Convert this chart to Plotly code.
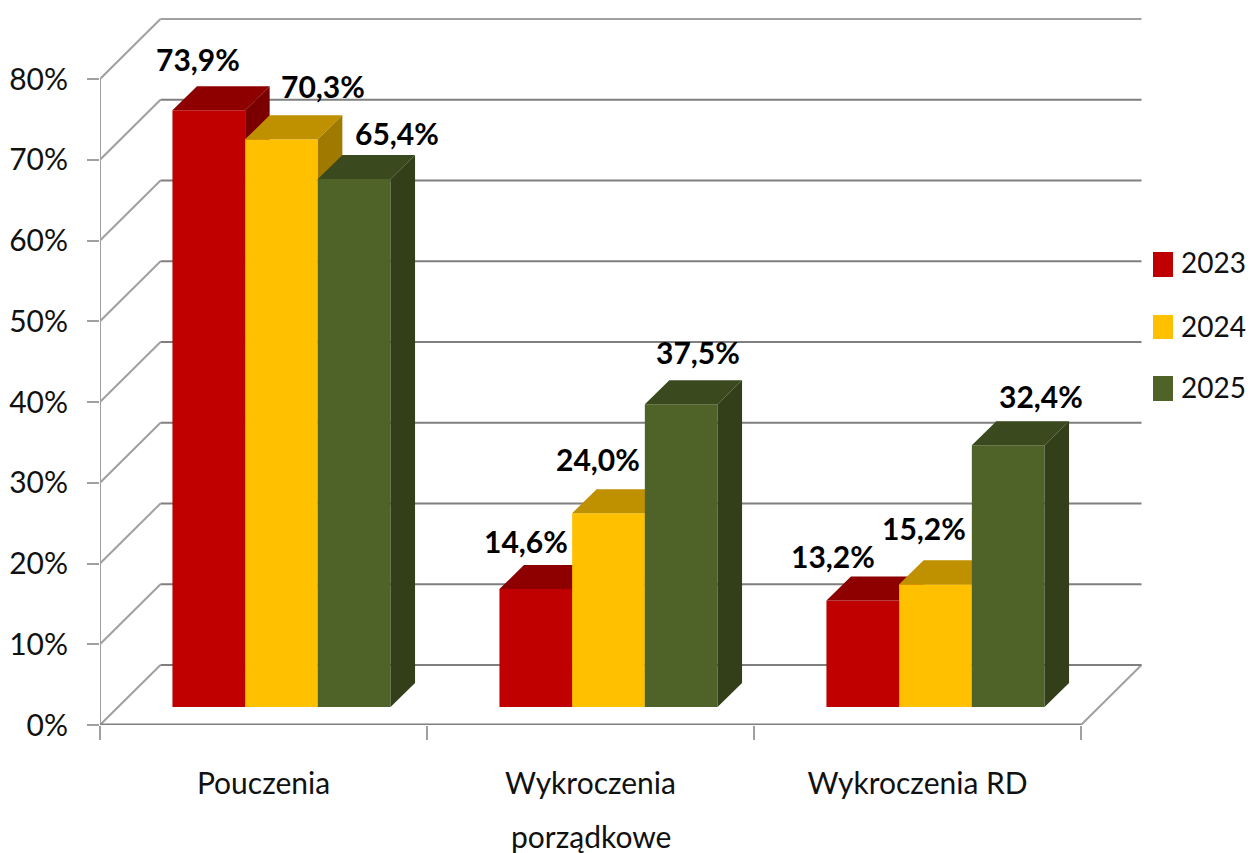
import plotly.graph_objects as go

categories = ["Pouczenia", "Wykroczenia", "Wykroczenia RD"]
second_line = ["", "porządkowe", ""]
years = ["2023", "2024", "2025"]
values_2023 = [73.9, 14.6, 13.2]
values_2024 = [70.3, 24.0, 15.2]
values_2025 = [65.4, 37.5, 32.4]
series = [values_2023, values_2024, values_2025]
y_ticks = [0, 10, 20, 30, 40, 50, 60, 70, 80]
y_labels = [f"{v}%" for v in y_ticks]

front = ["#C00000", "#FFC000", "#4F6228"]
top = ["#8E0000", "#BF9000", "#3B4A1E"]
side = ["#7A0000", "#A07A00", "#323F19"]
grid_back = "#7F7F7F"
grid_wall = "#A0A0A0"
axis_line = "#7F7F7F"
FONT = "Lato"
TXT = "#111111"
SZ = 30

W, H = 1250, 853
L, R, Y0, Y80 = 100, 1081, 725, 79     # front plane, page pixels
PR, PT = 1150, 8                       # right / top of the plot area, page pixels
ux = (R - L) / 3
uy = (Y0 - Y80) / 80
xmax = -0.5 + (PR - L) / ux
ymax = (Y0 - PT) / uy

wall_dx, wall_dy = 60.5 / ux, 60 / uy
floor_dx, floor_dy = 18 / ux, 18 / uy
bar_dx, bar_dy = 24.5 / ux, 24 / uy
bar_w = 72.7 / ux

label_dx = [[-11, 41, 43], [-10, -11, 17], [-30, -12, 33]]   # per category / series
label_dy = [[27, 29, 22], [24, 30, 28], [20, 32, 25]]

fig = go.Figure()

# walls and floor
wx, wy = [], []
for v in y_ticks:
    wx += [-0.5, -0.5 + wall_dx, None]
    wy += [v, v + wall_dy, None]
wx += [2.5, 2.5 + wall_dx, None]
wy += [0, wall_dy, None]
wx += [-0.5, -0.5]
wy += [0, 80]
fig.add_trace(go.Scatter(x=wx, y=wy, mode="lines", line=dict(color=grid_wall, width=2),
                         hoverinfo="skip", showlegend=False))
bx, by = [], []
for v in y_ticks[:-1]:
    bx += [-0.5 + wall_dx, 2.5 + wall_dx, None]
    by += [v + wall_dy, v + wall_dy, None]
fig.add_trace(go.Scatter(x=bx, y=by, mode="lines", line=dict(color=grid_back, width=2),
                         hoverinfo="skip", showlegend=False))
fig.add_trace(go.Scatter(x=[-0.5 + wall_dx, 2.5 + wall_dx], y=[80 + wall_dy] * 2, mode="lines",
                         line=dict(color=grid_wall, width=2), hoverinfo="skip", showlegend=False))
fig.add_trace(go.Scatter(x=[-0.5, 2.5], y=[0, 0], mode="lines", line=dict(color=axis_line, width=3),
                         hoverinfo="skip", showlegend=False))

# one overlaid layer per series so that later bars hide earlier ones
for s, vals in enumerate(series):
    ax = str(s + 2)
    xs = [i + floor_dx + (s - 1) * bar_w for i in range(len(vals))]
    fig.add_trace(go.Bar(x=xs, y=vals, base=floor_dy, width=bar_w, name=years[s],
                         marker=dict(color=front[s], line=dict(width=0)),
                         xaxis="x" + ax, yaxis="y" + ax, showlegend=False))
    tx, ty, sx, sy = [], [], [], []
    for x, v in zip(xs, vals):
        l, r = x - bar_w / 2, x + bar_w / 2
        t = floor_dy + v
        tx += [l, r, r + bar_dx, l + bar_dx, l, None]
        ty += [t, t, t + bar_dy, t + bar_dy, t, None]
        sx += [r, r + bar_dx, r + bar_dx, r, r, None]
        sy += [floor_dy, floor_dy + bar_dy, t + bar_dy, t, floor_dy, None]
    for px_, py_, c in ((tx, ty, top[s]), (sx, sy, side[s])):
        fig.add_trace(go.Scatter(x=px_, y=py_, mode="lines", fill="toself", fillcolor=c,
                                 line=dict(width=0, color=c), xaxis="x" + ax, yaxis="y" + ax,
                                 hoverinfo="skip", showlegend=False))
    for i, (x, v) in enumerate(zip(xs, vals)):
        fig.add_annotation(x=x, y=floor_dy + v + bar_dy, xref="x", yref="y",
                           text=f"<b>{v:.1f}%</b>".replace(".", ","), showarrow=False,
                           xshift=label_dx[i][s], yshift=label_dy[i][s],
                           font=dict(family=FONT, size=SZ, color="#000000"),
                           xanchor="center", yanchor="middle")

# second line of the wrapped category label
for i, t in enumerate(second_line):
    if t:
        fig.add_annotation(x=i, y=0, xref="x", yref="y", text=t, showarrow=False, yshift=-111,
                           font=dict(family=FONT, size=SZ, color=TXT),
                           xanchor="center", yanchor="middle")

# legend
lg_top = [252, 315, 376]
lg_bot = [277, 339, 401]
lg_txt = [262, 326, 387]
def px(x): return (x - L) / (PR - L)
def py(y): return (Y0 - y) / (Y0 - PT)
for s, y in enumerate(years):
    fig.add_shape(type="rect", xref="paper", yref="paper", x0=px(1153), x1=px(1173),
                  y0=py(lg_bot[s]), y1=py(lg_top[s]), fillcolor=front[s], line=dict(width=0))
    fig.add_annotation(xref="paper", yref="paper", x=px(1179), y=py(lg_txt[s]), text=y,
                       showarrow=False, xanchor="left", yanchor="middle",
                       font=dict(family=FONT, size=28, color=TXT))

fig.update_layout(
    width=W, height=H, autosize=False,
    margin=dict(l=L, r=W - PR, t=PT, b=H - Y0, pad=0, autoexpand=False),
    paper_bgcolor="white", plot_bgcolor="white",
    barmode="overlay", showlegend=False,
    font=dict(family=FONT, size=SZ, color=TXT),
    xaxis=dict(range=[-0.5, xmax], tickmode="array", tickvals=[0, 1, 2], ticktext=categories,
               ticks="", ticklabelstandoff=38, showgrid=False, zeroline=False, showline=False,
               automargin=False,
               minor=dict(tickmode="array", tickvals=[-0.5, 0.5, 1.5, 2.5], ticks="outside",
                          ticklen=14, tickwidth=1.5, tickcolor=grid_wall)),
    yaxis=dict(range=[0, ymax], tickmode="array", tickvals=y_ticks, ticktext=y_labels,
               ticks="outside", ticklen=12, tickwidth=1.5, tickcolor=grid_wall, automargin=False,
               ticklabelstandoff=13, showgrid=False, zeroline=False, showline=False),
)
for n in (2, 3, 4):
    fig.update_layout({
        f"xaxis{n}": dict(overlaying="x", matches="x", visible=False),
        f"yaxis{n}": dict(overlaying="y", matches="y", visible=False),
    })

fig.write_html("out.html", config={"displayModeBar": False},
               post_script="document.body.style.margin='0';document.documentElement.style.overflow='hidden';")
